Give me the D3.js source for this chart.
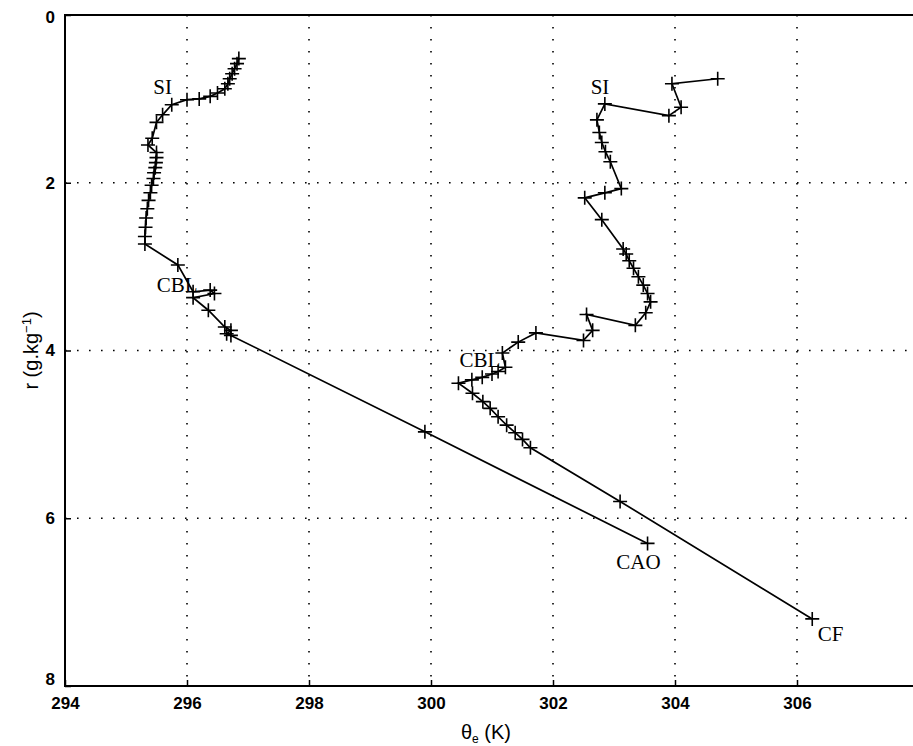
<!DOCTYPE html>
<html>
<head>
<meta charset="utf-8">
<script src="https://cdn.jsdelivr.net/npm/d3@7"></script>
<style>
  body { margin: 0; background: #fff; }
  svg { display: block; }
</style>
</head>
<body>
<svg id="chart" width="913" height="746"></svg>
<script>
// ---- data ----
const xTicks = [294, 296, 298, 300, 302, 304, 306];
const yTicks = [0, 2, 4, 6, 8];
const xGrid = [296, 298, 300, 302, 304, 306];
const yGrid = [2, 4, 6];

const caoTheta = [296.85, 296.82, 296.78, 296.74, 296.70, 296.67, 296.62, 296.50, 296.38, 296.20, 296.00, 295.75, 295.60, 295.50, 295.43, 295.36, 295.50, 295.50, 295.49, 295.48, 295.46, 295.45, 295.42, 295.40, 295.37, 295.35, 295.33, 295.32, 295.31, 295.31, 295.85, 296.10, 296.38, 296.45, 296.10, 296.35, 296.62, 296.72, 296.65, 296.72, 299.90, 303.55];
const caoR     = [0.52, 0.58, 0.64, 0.70, 0.76, 0.82, 0.88, 0.93, 0.97, 1.00, 1.01, 1.07, 1.19, 1.28, 1.47, 1.55, 1.64, 1.70, 1.76, 1.82, 1.88, 1.95, 2.03, 2.12, 2.21, 2.31, 2.42, 2.53, 2.64, 2.73, 2.98, 3.30, 3.28, 3.32, 3.37, 3.52, 3.72, 3.76, 3.80, 3.82, 4.97, 6.30];

const cfTheta = [304.70, 303.95, 304.10, 303.90, 302.85, 302.72, 302.76, 302.80, 302.86, 302.94, 303.12, 302.85, 302.52, 302.80, 303.15, 303.20, 303.25, 303.32, 303.40, 303.48, 303.55, 303.60, 303.52, 303.35, 302.55, 302.65, 302.50, 301.72, 301.43, 301.17, 301.22, 301.10, 301.00, 300.84, 300.67, 300.45, 300.68, 300.85, 300.97, 301.10, 301.24, 301.38, 301.50, 301.63, 303.10, 306.25];
const cfR     = [0.76, 0.82, 1.10, 1.20, 1.06, 1.25, 1.40, 1.52, 1.63, 1.75, 2.07, 2.12, 2.18, 2.44, 2.79, 2.85, 2.93, 3.02, 3.12, 3.22, 3.32, 3.42, 3.55, 3.70, 3.57, 3.76, 3.88, 3.79, 3.90, 4.03, 4.20, 4.25, 4.28, 4.32, 4.35, 4.39, 4.51, 4.61, 4.69, 4.79, 4.89, 4.98, 5.06, 5.16, 5.80, 7.20];

const labelText  = ["SI", "CBL", "CAO", "SI", "CBL", "CF"];
const labelTheta = [295.60, 295.84, 303.40, 302.77, 300.80, 306.55];
const labelR     = [0.86, 3.22, 6.52, 0.86, 4.11, 7.38];

// ---- layout ----
const svg = d3.select("#chart");
const padL = 65, padT = 15, padB = 686;
const x = d3.scaleLinear().domain([294, 308]).range([padL, padL + 14 * 61]);
const y = d3.scaleLinear().domain([0, 8]).range([padT, padB]);

svg.append("rect").attr("width", 913).attr("height", 746).attr("fill", "#fff");

// grid
const grid = svg.append("g").attr("stroke", "#000").attr("stroke-width", 1.6)
  .attr("stroke-dasharray", "1.6 10.4");
grid.selectAll(".gx").data(xGrid).join("line")
  .attr("x1", d => x(d)).attr("x2", d => x(d))
  .attr("y1", padT).attr("y2", padB);
grid.selectAll(".gy").data(yGrid).join("line")
  .attr("x1", padL).attr("x2", 913)
  .attr("y1", d => y(d)).attr("y2", d => y(d));

// axes
const xAxis = d3.axisBottom(x).tickValues(xTicks).tickSize(-6).tickPadding(10).tickFormat(d3.format("d"));
const yAxis = d3.axisLeft(y).tickValues(yTicks).tickSize(-6).tickPadding(10).tickFormat(d3.format("d"));
const gx = svg.append("g").attr("transform", `translate(0,${padB})`).call(xAxis);
const gy = svg.append("g").attr("transform", `translate(${padL},0)`).call(yAxis);
[gx, gy].forEach(g => {
  g.select(".domain").remove();
  g.selectAll(".tick line").attr("stroke", "#000").attr("stroke-width", 1.5);
  g.selectAll("text").attr("fill", "#000")
    .style("font-family", "'Liberation Sans Narrow', 'Liberation Sans', Arial, sans-serif")
    .style("font-weight", "bold").style("font-size", "17px");
});
gy.selectAll(".tick").filter(d => d === 8).select("text").attr("dy", "-0.1em");
gy.selectAll(".tick").filter(d => d === 0).select("text").attr("dy", "0.45em");
gx.selectAll(".tick text").attr("dy", "0.75em");

// frame (left, top, bottom)
svg.append("path")
  .attr("d", `M913,${padT}H${padL}V${padB}H913`)
  .attr("fill", "none").attr("stroke", "#000").attr("stroke-width", 2);

// series
const line = d3.line().x(d => x(d[0])).y(d => y(d[1]));
const cao = caoTheta.map((t, i) => [t, caoR[i]]);
const cf = cfTheta.map((t, i) => [t, cfR[i]]);
[cao, cf].forEach(s => {
  svg.append("path").datum(s).attr("d", line)
    .attr("fill", "none").attr("stroke", "#000").attr("stroke-width", 1.7);
  svg.append("g").selectAll("path").data(s).join("path")
    .attr("d", d => `M${x(d[0]) - 7},${y(d[1])}h14M${x(d[0])},${y(d[1]) - 7}v14`)
    .attr("stroke", "#000").attr("stroke-width", 1.6).attr("fill", "none");
});

// annotations
svg.append("g").selectAll("text").data(labelText).join("text")
  .attr("x", (d, i) => x(labelTheta[i]))
  .attr("y", (d, i) => y(labelR[i]))
  .attr("text-anchor", "middle").attr("dominant-baseline", "central")
  .style("font-family", "'Liberation Serif', 'Times New Roman', serif")
  .style("font-size", "21px").attr("fill", "#000")
  .text(d => d);

// axis titles
svg.append("text")
  .attr("transform", `translate(38,${(padT + padB) / 2}) rotate(-90)`)
  .attr("text-anchor", "middle")
  .style("font-family", "'Liberation Sans', Arial, sans-serif").style("font-size", "20px")
  .html("r (g.kg<tspan dy='-7' font-size='13px'>−1</tspan><tspan dy='7'>)</tspan>");

svg.append("text")
  .attr("x", x(300.9)).attr("y", 739)
  .attr("text-anchor", "middle")
  .style("font-family", "'Liberation Sans', Arial, sans-serif").style("font-size", "20px")
  .html("θ<tspan dy='4' font-size='12px'>e</tspan><tspan dy='-4'> (K)</tspan>");
</script>
</body>
</html>
